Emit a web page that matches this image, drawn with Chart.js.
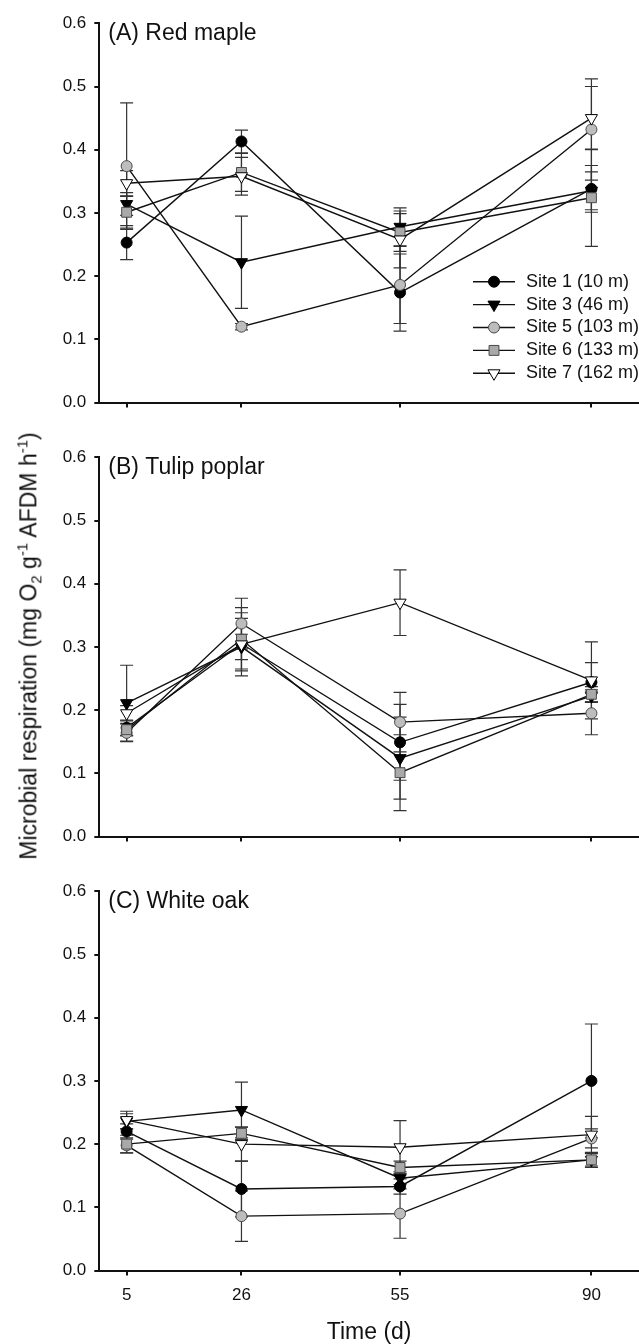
<!DOCTYPE html>
<html lang="en">
<head>
<meta charset="UTF-8">
<title>Microbial respiration</title>
<style>
    body {
        margin: 0;
        background: #fff;
    }

    #wrap {
        position: relative;
        width: 639px;
        height: 1344px;
        overflow: hidden;
        font-family: "Liberation Sans", Arial, sans-serif;
    }

    canvas {
        position: absolute;
        left: 0;
    }

    #ylab {
        position: absolute;
        left: 29px;
        top: 646px;
        transform: translate(-50%, -50%) rotate(-90deg);
        white-space: nowrap;
        font-size: 23px;
        color: #111;
    }

    #ylab sub, #ylab sup {
        font-size: 15px;
    }
</style>
</head>
<body>
<div id="wrap">
    <canvas id="chartA" width="639" height="434" style="top:0px"></canvas>
    <canvas id="chartB" width="639" height="434" style="top:434px"></canvas>
    <canvas id="chartC" width="639" height="478" style="top:868px"></canvas>
    <div id="ylab">Microbial respiration (mg O<sub>2</sub> g<sup>-1</sup> AFDM h<sup>-1</sup>)</div>
</div>

<script src="https://cdn.jsdelivr.net/npm/chart.js"></script>
<script>
    // sampling days (x axis) and site names
    var days = [5, 26, 55, 90];
    var siteNames = ['Site 1 (10 m)', 'Site 3 (46 m)', 'Site 5 (103 m)', 'Site 6 (133 m)', 'Site 7 (162 m)'];

    // (A) Red maple: means and SE, one row per site
    var mapleMean = [
        [0.253, 0.413, 0.174, 0.338],
        [0.314, 0.222, 0.278, 0.335],
        [0.374, 0.120, 0.186, 0.432],
        [0.301, 0.364, 0.269, 0.324],
        [0.347, 0.358, 0.258, 0.450]
    ];
    var mapleSE = [
        [0.027, 0.018, 0.061, 0.037],
        [0.018, 0.073, 0.030, 0.030],
        [0.100, 0.005, 0.061, 0.080],
        [0.025, 0.030, 0.030, 0.077],
        [0.020, 0.030, 0.045, 0.050]
    ];

    // (B) Tulip poplar
    var poplarMean = [
        [0.172, 0.305, 0.149, 0.244],
        [0.211, 0.300, 0.124, 0.222],
        [0.164, 0.337, 0.181, 0.195],
        [0.169, 0.312, 0.101, 0.225],
        [0.195, 0.304, 0.370, 0.247]
    ];
    var poplarSE = [
        [0.012, 0.040, 0.060, 0.031],
        [0.060, 0.020, 0.065, 0.010],
        [0.014, 0.040, 0.047, 0.034],
        [0.010, 0.050, 0.060, 0.012],
        [0.012, 0.050, 0.052, 0.061]
    ];

    // (C) White oak
    var oakMean = [
        [0.220, 0.129, 0.133, 0.300],
        [0.236, 0.254, 0.146, 0.175],
        [0.198, 0.086, 0.090, 0.209],
        [0.200, 0.217, 0.163, 0.175],
        [0.238, 0.200, 0.195, 0.215]
    ];
    var oakSE = [
        [0.012, 0.044, 0.012, 0.090],
        [0.012, 0.044, 0.010, 0.012],
        [0.012, 0.040, 0.039, 0.015],
        [0.014, 0.010, 0.010, 0.010],
        [0.014, 0.027, 0.042, 0.029]
    ];

    var fontFamily = '"Liberation Sans", Arial, sans-serif';
    var ink = '#111';

    var siteStyles = [
        { pointStyle: 'circle', radius: 5.5, rotation: 0, fill: '#000', edge: '#000' },
        { pointStyle: 'triangle', radius: 7, rotation: 180, fill: '#000', edge: '#000' },
        { pointStyle: 'circle', radius: 5.5, rotation: 0, fill: '#bdbdbd', edge: '#4a4a4a' },
        { pointStyle: 'rect', radius: 7, rotation: 0, fill: '#a9a9a9', edge: '#4a4a4a' },
        { pointStyle: 'triangle', radius: 7, rotation: 180, fill: '#fff', edge: '#000' }
    ];

    // vertical SE bars with caps, drawn under the lines and markers
    var errorBars = {
        id: 'errorBars',
        beforeDatasetsDraw: function (chart) {
            var ctx = chart.ctx, xs = chart.scales.x, ys = chart.scales.y;
            ctx.save();
            ctx.strokeStyle = '#333';
            ctx.lineWidth = 1.2;
            chart.data.datasets.forEach(function (ds) {
                ds.data.forEach(function (pt, i) {
                    var se = ds.errors[i];
                    var x = xs.getPixelForValue(pt.x);
                    var top = ys.getPixelForValue(pt.y + se);
                    var bot = ys.getPixelForValue(pt.y - se);
                    ctx.beginPath();
                    ctx.moveTo(x, top); ctx.lineTo(x, bot);
                    ctx.moveTo(x - 6.5, top); ctx.lineTo(x + 6.5, top);
                    ctx.moveTo(x - 6.5, bot); ctx.lineTo(x + 6.5, bot);
                    ctx.stroke();
                });
            });
            ctx.restore();
        }
    };

    var panelLabel = {
        id: 'panelLabel',
        afterDraw: function (chart, args, opts) {
            var ctx = chart.ctx;
            ctx.save();
            ctx.font = '23px ' + fontFamily;
            ctx.fillStyle = ink;
            ctx.textAlign = 'left';
            ctx.textBaseline = 'middle';
            ctx.fillText(opts.text, chart.chartArea.left + 9, chart.chartArea.top + 10);
            ctx.restore();
        }
    };

    // legend in panel A (line + marker + name)
    var siteLegend = {
        id: 'siteLegend',
        afterDraw: function (chart) {
            var ctx = chart.ctx;
            ctx.save();
            chart.data.datasets.forEach(function (ds, s) {
                var y = 281.7 + s * 22.9;
                ctx.strokeStyle = ink;
                ctx.lineWidth = 1.4;
                ctx.beginPath();
                ctx.moveTo(473, y);
                ctx.lineTo(515, y);
                ctx.stroke();
                ctx.fillStyle = ds.pointBackgroundColor;
                ctx.strokeStyle = ds.pointBorderColor;
                ctx.lineWidth = 1;
                Chart.helpers.drawPoint(ctx, {
                    pointStyle: ds.pointStyle,
                    radius: ds.pointRadius,
                    rotation: ds.pointRotation,
                    borderWidth: 1
                }, 494, y);
                ctx.fillStyle = ink;
                ctx.font = '18px ' + fontFamily;
                ctx.textAlign = 'left';
                ctx.textBaseline = 'middle';
                ctx.fillText(ds.label, 526, y);
            });
            ctx.restore();
        }
    };

    function makeChart(id, means, errs, label, showBottom, extra) {
        var canvas = document.getElementById(id);
        var datasets = means.map(function (vals, s) {
            var st = siteStyles[s];
            return {
                label: siteNames[s],
                data: vals.map(function (v, i) { return { x: days[i], y: v }; }),
                errors: errs[s],
                borderColor: ink,
                borderWidth: 1.4,
                pointStyle: st.pointStyle,
                pointRadius: st.radius,
                pointRotation: st.rotation,
                pointBackgroundColor: st.fill,
                pointBorderColor: st.edge,
                pointBorderWidth: 1,
                tension: 0,
                fill: false,
                order: 4 - s
            };
        });

        var axisGrid = { display: true, drawOnChartArea: false, drawTicks: true, tickLength: 5, color: ink, lineWidth: 2 };
        var axisBorder = { display: true, color: ink, width: 2 };

        return new Chart(canvas.getContext('2d'), {
            type: 'line',
            data: { datasets: datasets },
            options: {
                responsive: false,
                animation: false,
                events: [],
                layout: { autoPadding: false, padding: { top: 23.3, left: 0, right: 0, bottom: 0 } },
                scales: {
                    x: {
                        type: 'linear',
                        min: 0,
                        max: 98.7,
                        afterBuildTicks: function (scale) {
                            scale.ticks = days.map(function (d) { return { value: d }; });
                        },
                        afterFit: function (scale) { scale.height = canvas.height - 402.5; },
                        grid: axisGrid,
                        border: axisBorder,
                        ticks: {
                            display: showBottom,
                            padding: 10,
                            color: ink,
                            font: { size: 17, family: fontFamily }
                        },
                        title: {
                            display: showBottom,
                            text: 'Time (d)',
                            padding: 0,
                            color: ink,
                            font: { size: 23, family: fontFamily }
                        }
                    },
                    y: {
                        min: 0,
                        max: 0.6,
                        afterFit: function (scale) { scale.width = 99.3; },
                        grid: axisGrid,
                        border: axisBorder,
                        ticks: {
                            stepSize: 0.1,
                            padding: 8,
                            color: ink,
                            font: { size: 17, family: fontFamily },
                            callback: function (v) { return v.toFixed(1); }
                        }
                    }
                },
                plugins: {
                    legend: { display: false },
                    tooltip: { enabled: false },
                    panelLabel: { text: label }
                }
            },
            plugins: [errorBars, panelLabel].concat(extra || [])
        });
    }

    makeChart('chartA', mapleMean, mapleSE, '(A) Red maple', false, [siteLegend]);
    makeChart('chartB', poplarMean, poplarSE, '(B) Tulip poplar', false);
    makeChart('chartC', oakMean, oakSE, '(C) White oak', true);
</script>
</body>
</html>
